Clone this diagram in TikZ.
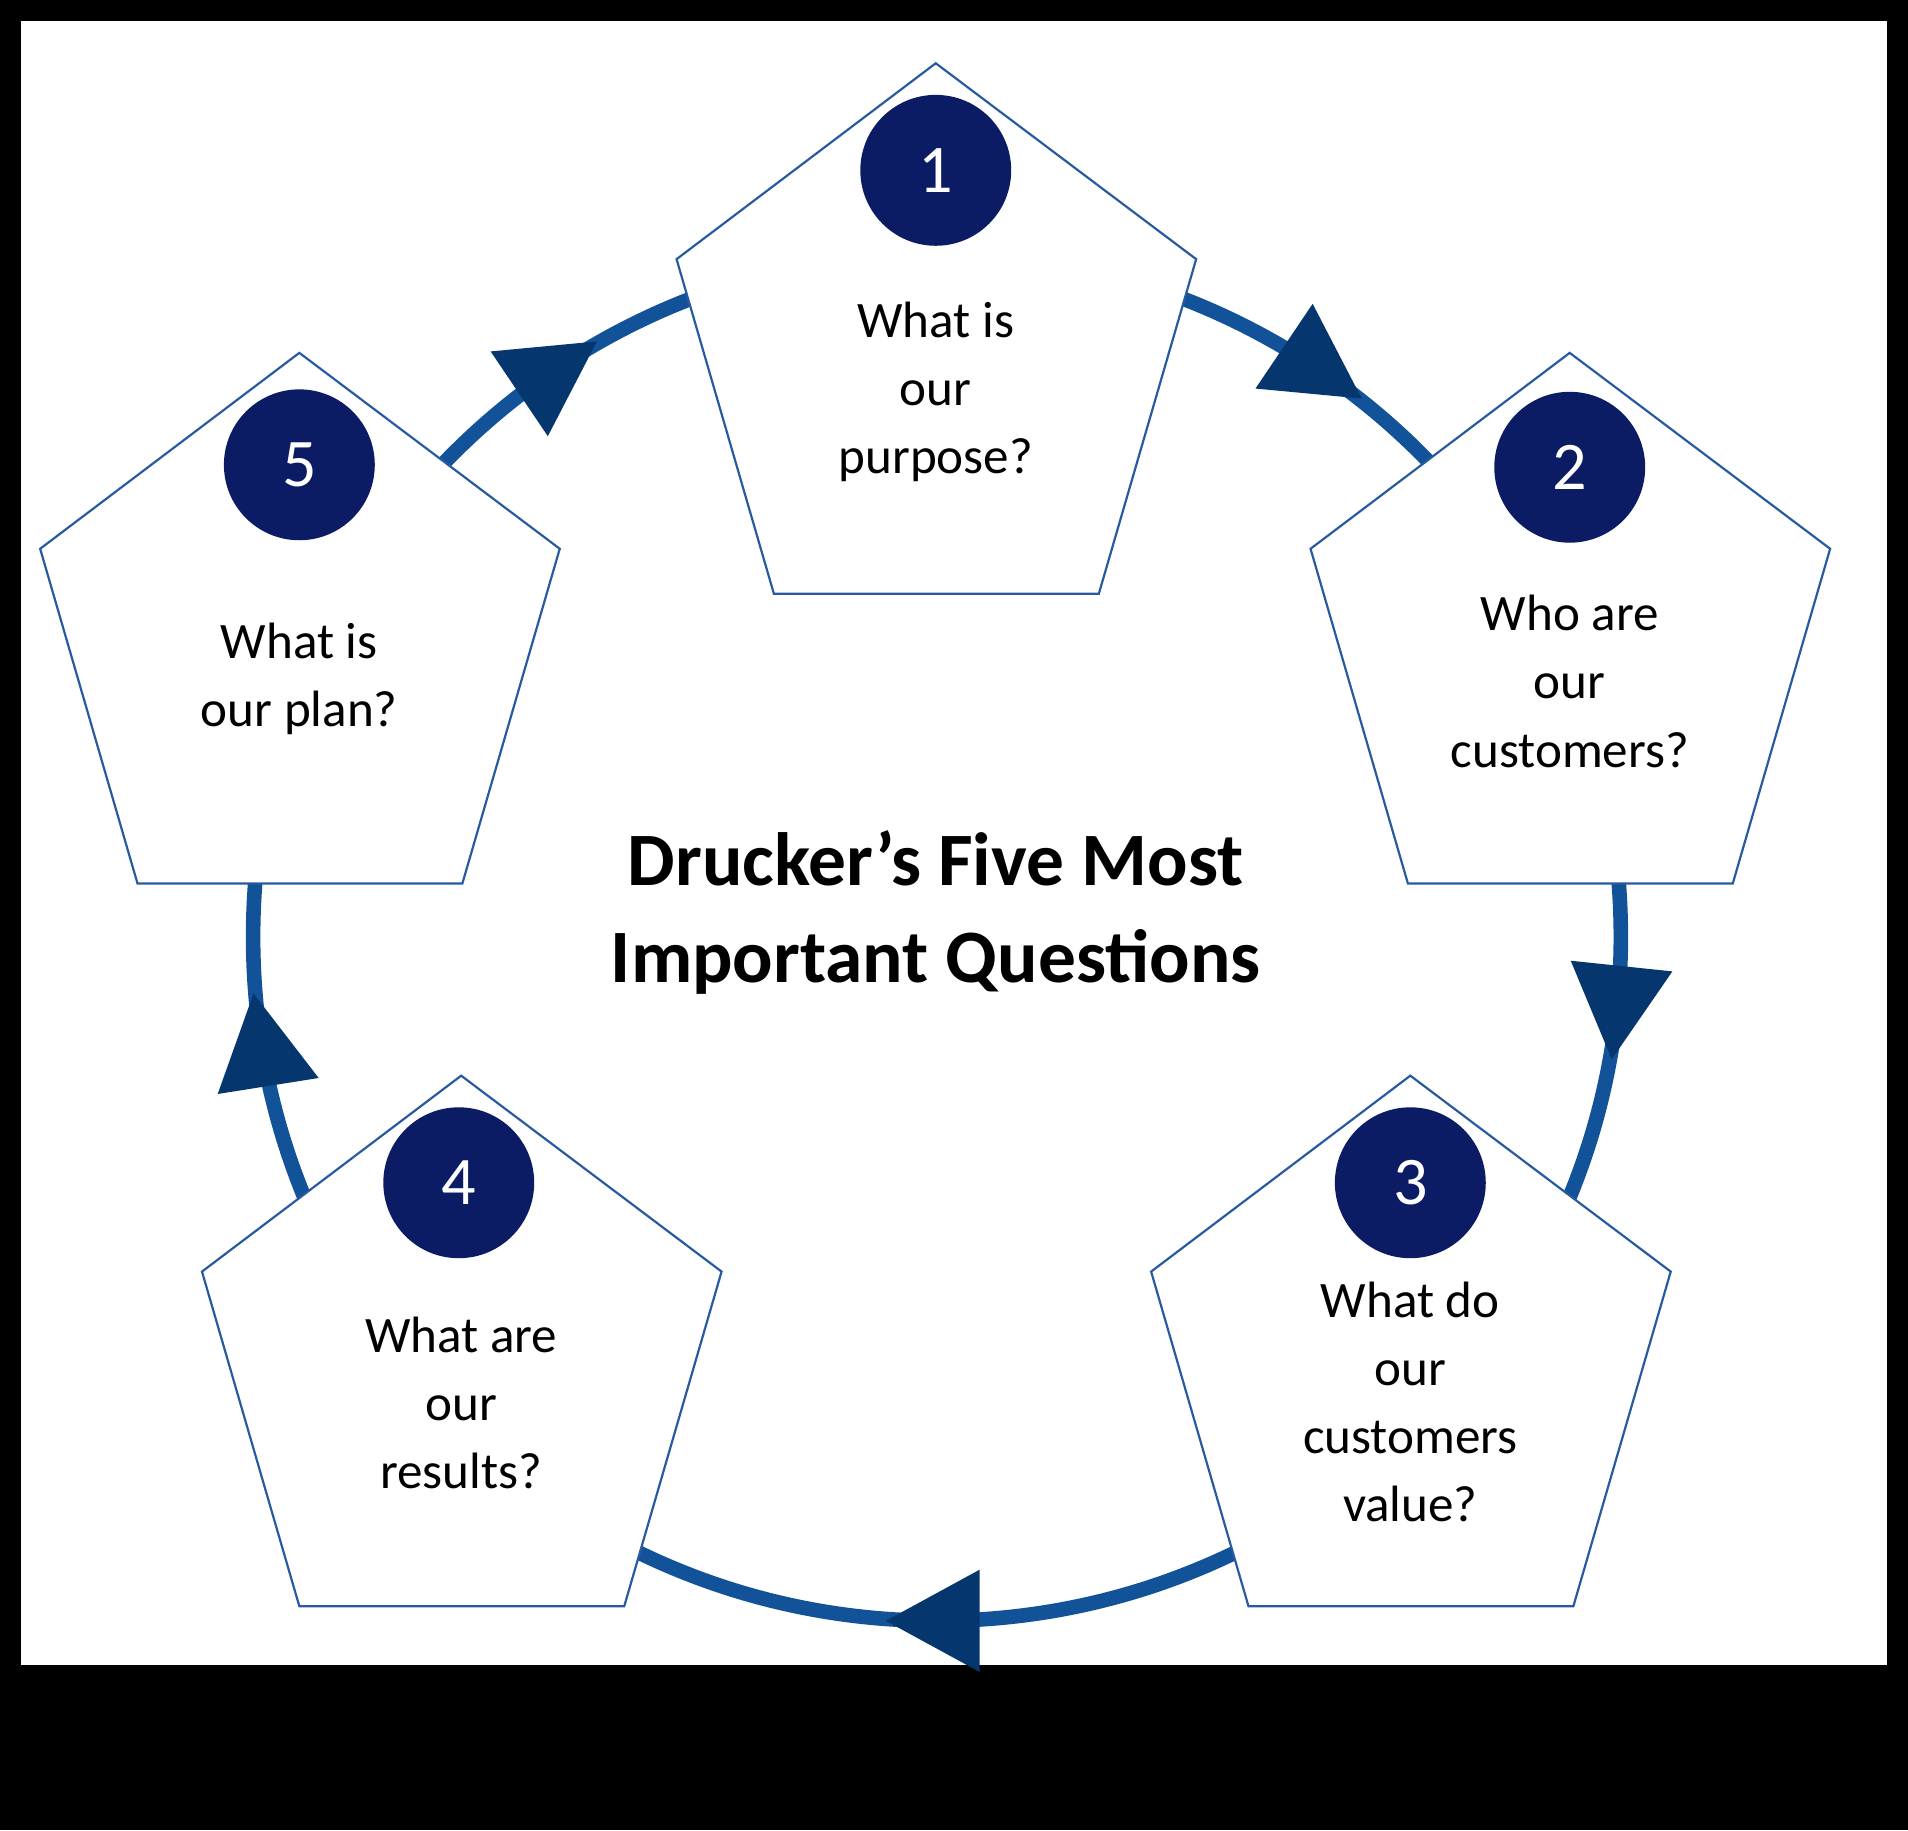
\documentclass[tikz,border=0pt]{standalone}
\usepackage{fontspec}
\setmainfont{Carlito}
\begin{document}
\begin{tikzpicture}[x=0.5pt,y=0.5pt,
  ring/.style={draw={rgb,255:red,18;green,82;blue,152},line width=6pt},
  arr/.style={fill={rgb,255:red,5;green,55;blue,110}},
  pent/.style={draw={rgb,255:red,40;green,90;blue,160},line width=0.9pt,fill=white},
  num/.style={circle,fill={rgb,255:red,12;green,28;blue,100},minimum size=62pt,inner sep=0pt,text=white,font=\fontsize{28}{30}\selectfont},
  q/.style={align=center,font=\fontsize{21}{28}\selectfont},
  title/.style={align=center,font=\bfseries\fontsize{31}{40}\selectfont}]
\fill[black] (0,0) rectangle (1568,1504);
\fill[white] (17,136) rectangle (1551,1487);
\useasboundingbox (0,0) rectangle (1568,1504);
\draw[ring] (770,734) circle (562);
\foreach \a in {56,-6,-90,-171,124}{
  \begin{scope}[shift={(770,734)},rotate=\a]
    \fill[arr] (520,35) -- (604,35) -- (562,-42) -- cycle;
  \end{scope}}
\foreach \n/\x/\y in {1/769/1452,2/1290/1214,3/1159/620,4/379/620,5/246/1214}{
  \draw[pent] (\x,\y) -- ++(214,-161) -- ++(-80,-275) -- ++(-267,0) -- ++(-80,275) -- cycle;
}
\node[num] (c1) at (769,1364) {1};
\node[num] (c2) at (1290,1120) {2};
\node[num] (c3) at (1159,532) {3};
\node[num] (c4) at (377,532) {4};
\node[num] (c5) at (246,1122) {5};
\node[q] (q1) at (769,1182) {What is\\our\\purpose?};
\node[q] (q2) at (1290,944) {Who are\\our\\customers?};
\node[q] (q3) at (1159,352) {What do\\our\\customers\\value?};
\node[q] (q4) at (379,351) {What are\\our\\results?};
\node[q] (q5) at (246,946) {What is\\our plan?};
\node[title] (t) at (769,754) {Drucker’s Five Most\\Important Questions};
\end{tikzpicture}
\end{document}
